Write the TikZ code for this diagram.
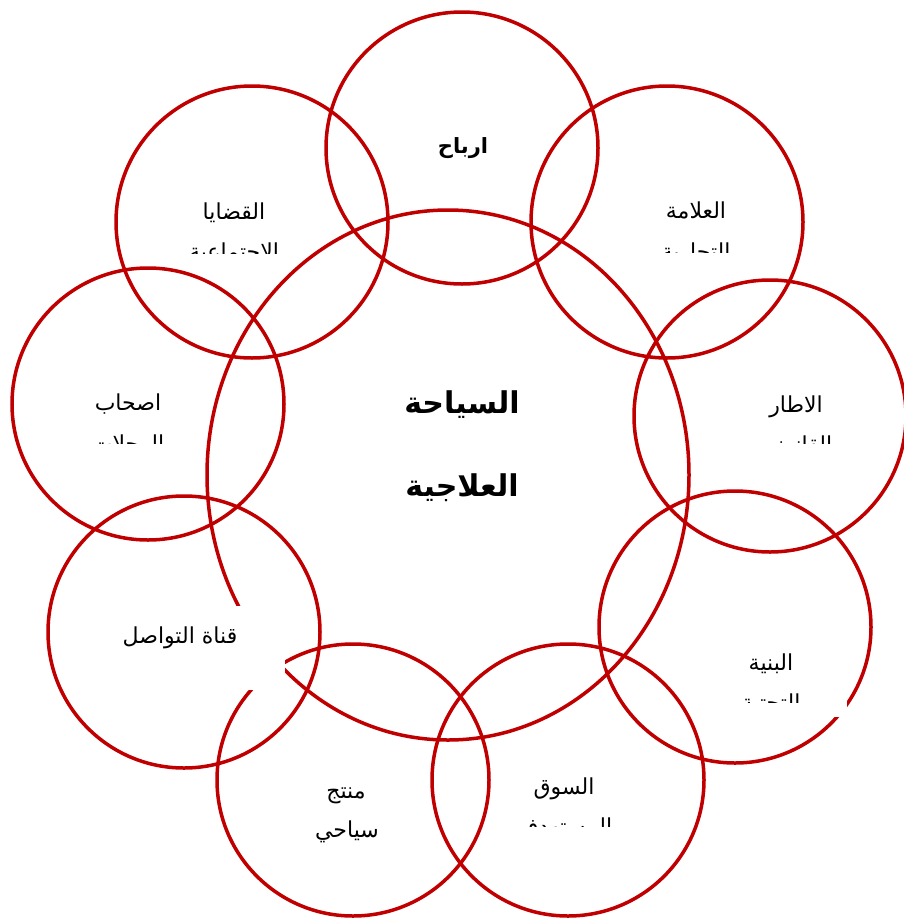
\documentclass[tikz,border=0pt]{standalone}
\usepackage{fontspec}
\TeXXeTstate=1
\newfontfamily\arabicfont[Script=Arabic]{DejaVu Sans}
\usetikzlibrary{shapes.geometric}
\definecolor{ringred}{RGB}{192,0,0}
\tikzset{
  ringc/.style={draw=ringred, line width=3.5, circle, minimum size=272, inner sep=0},
  bigring/.style={draw=ringred, line width=3.5, ellipse, minimum width=482, minimum height=530, inner sep=0},
  lbl/.style={font=\arabicfont\fontsize{22}{22}\selectfont, inner sep=0, anchor=base},
  lblb/.style={font=\arabicfont\bfseries\fontsize{21}{21}\selectfont, inner sep=0, anchor=base},
  title/.style={font=\arabicfont\bfseries\fontsize{30}{30}\selectfont, inner sep=0, anchor=base},
}
\begin{document}
\begin{tikzpicture}[x=1pt,y=-1pt]
\useasboundingbox (0,0) rectangle (904,924);
% outer circles
\node[ringc] (c1) at (462,148) {};
\node[ringc] (c2) at (667,222) {};
\node[ringc] (c3) at (770,416) {};
\node[ringc] (c4) at (735,627) {};
\node[ringc] (c5) at (568,780) {};
\node[ringc] (c6) at (353,780) {};
\node[ringc] (c7) at (184,632) {};
\node[ringc] (c8) at (148,404) {};
\node[ringc] (c9) at (252,222) {};
% central ellipse
\node[bigring] (big) at (448,475) {};
% white text boxes that hide parts of the rings
\fill[white] (105,606) rectangle (285,690);
\fill[white] (715,640) rectangle (847,717);
% centre title
\node[title] (t0a) at (462,413) {\beginR السياحة\endR};
\node[title] (t0b) at (462,496) {\beginR العلاجية\endR};
% labels
\node[lblb] (t1) at (463,153) {\beginR ارباح\endR};
\begin{scope}
\clip (620,180) rectangle (780,252);
\node[lbl] (t2a) at (696,218) {\beginR العلامة\endR};
\node[lbl] (t2b) at (696,259) {\beginR التجارية\endR};
\end{scope}
\begin{scope}
\clip (718,375) rectangle (880,443);
\node[lbl] (t3a) at (796,412) {\beginR الاطار\endR};
\node[lbl] (t3b) at (796,452) {\beginR القانوني\endR};
\end{scope}
\begin{scope}
\clip (715,640) rectangle (847,702);
\node[lbl] (t4a) at (771,670) {\beginR البنية\endR};
\node[lbl] (t4b) at (771,710) {\beginR التحتية\endR};
\end{scope}
\begin{scope}
\clip (500,760) rectangle (640,826);
\node[lbl] (t5a) at (564,794) {\beginR السوق\endR};
\node[lbl] (t5b) at (564,834) {\beginR المستهدف\endR};
\end{scope}
\node[lbl] (t6a) at (346,798) {\beginR منتج\endR};
\node[lbl] (t6b) at (347,837) {\beginR سياحي\endR};
\node[lbl] (t7) at (180,643) {\beginR قناة التواصل\endR};
\begin{scope}
\clip (55,375) rectangle (205,443);
\node[lbl] (t8a) at (128,410) {\beginR اصحاب\endR};
\node[lbl] (t8b) at (128,451) {\beginR الرحلات\endR};
\end{scope}
\begin{scope}
\clip (150,180) rectangle (320,253);
\node[lbl] (t9a) at (234,219) {\beginR القضايا\endR};
\node[lbl] (t9b) at (234,259) {\beginR الاجتماعية\endR};
\end{scope}
\end{tikzpicture}
\end{document}
